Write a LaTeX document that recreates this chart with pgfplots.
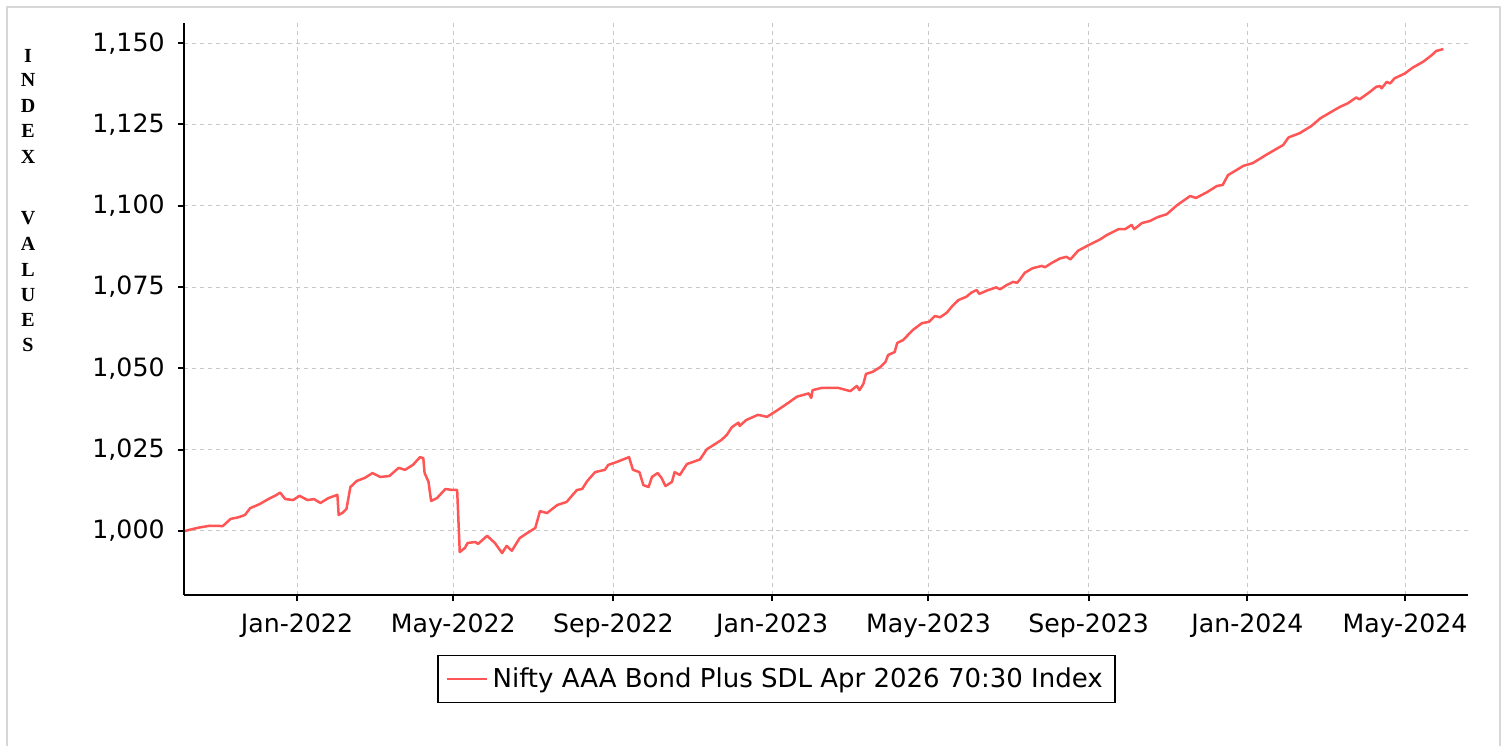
\documentclass[border=0pt]{standalone}
\usepackage{fontspec}
\setmainfont{DejaVu Sans}
\newfontfamily\lblfont{Liberation Serif}
\usepackage{pgfplots}
\pgfplotsset{compat=1.18}
\definecolor{linered}{RGB}{255,85,85}
\definecolor{gridgray}{RGB}{200,200,200}
\definecolor{framegray}{RGB}{215,215,215}
\begin{document}
\begin{tikzpicture}
\useasboundingbox (0,0) rectangle (752.5pt,373pt);
\draw[framegray, line width=0.9pt] (3.5pt,0) -- (3.5pt,369.5pt) -- (750pt,369.5pt) -- (750pt,0);
\begin{axis}[
  at={(92pt,75.5pt)}, anchor=south west,
  scale only axis, width=642pt, height=286pt,
  xmin=-86.8, xmax=899.4, ymin=980.3, ymax=1156.2,
  axis x line*=bottom, axis y line*=left,
  axis line style={line width=1pt, black, -},
  tick align=outside, major tick length=3pt,
  tick style={black, line width=1pt},
  xtick={0,120,243,365,485,608,730,851},
  xticklabels={Jan-2022,May-2022,Sep-2022,Jan-2023,May-2023,Sep-2023,Jan-2024,May-2024},
  ytick={1000,1025,1050,1075,1100,1125,1150},
  yticklabels={{1,000},{1,025},{1,050},{1,075},{1,100},{1,125},{1,150}},
  ticklabel style={font=\fontsize{12.6}{15}\selectfont},
  xticklabel style={inner sep=0pt, yshift=-6pt},
  yticklabel style={inner sep=0pt, xshift=-6.5pt},
  grid=major,
  major grid style={gridgray, line width=0.5pt, dash pattern=on 2pt off 2pt},
  legend style={at={(0.4614,-0.1469)}, anchor=center, draw=black, line width=0.8pt,
    inner xsep=4pt, inner ysep=4pt,
    font=\fontsize{13}{15}\selectfont,
    nodes={inner sep=2pt}},
  legend cell align=left,
  legend image code/.code={\draw[#1, line width=1.25pt] (0pt,0pt) -- (20pt,0pt);},
]
\addplot[linered, line width=1.25pt, line join=round] coordinates {
(-86,1000.0) (-80,1000.6) (-74.5,1001.1) (-67,1001.6) (-57,1001.5) (-51,1003.7) (-45,1004.2)
(-40,1004.9) (-36,1007.0) (-29,1008.2) (-22,1009.8) (-16,1011.0) (-13,1011.8) (-9,1009.8)
(-3,1009.5) (2,1010.8) (8,1009.5) (13,1009.8) (18,1008.6) (24,1010.1) (31,1011.1)
(32,1004.9) (35,1005.6) (38,1006.8) (41,1013.5) (46,1015.4) (52,1016.3) (58,1017.8)
(64,1016.6) (71,1016.9) (78,1019.4) (83,1018.8) (89,1020.3) (94.5,1022.7) (97,1022.4)
(98,1017.8) (101,1015.1) (103,1009.2) (107.5,1010.1) (114,1012.9) (119,1012.6) (123,1012.6)
(125,993.5) (129,994.8) (131,996.3) (137,996.6) (139,996.0) (146,998.5) (152,996.3)
(157.5,993.2) (161,995.4) (165,993.9) (171,997.8) (177,999.4) (183,1000.9) (186.6,1006.1)
(192,1005.5) (200,1008.0) (207,1008.9) (215,1012.6) (219,1012.9) (223,1015.4) (229,1018.1)
(236.5,1018.8) (239,1020.3) (245.5,1021.2) (255,1022.7) (258,1018.8) (263,1018.1) (266,1014.1)
(270,1013.5) (272.6,1016.6) (277,1017.8) (280,1016.3) (283,1013.8) (288,1015.1) (290,1018.1)
(294,1017.2) (299.5,1020.6) (304,1021.2) (309.5,1022.0) (314.7,1025.1) (321,1026.7) (326,1028.0)
(330,1029.5) (334,1031.9) (339,1033.3) (340,1032.3) (345,1034.1) (354,1035.7) (361,1035.1)
(368.5,1037.0) (377,1039.3) (384,1041.3) (393,1042.3) (395,1040.9) (396,1043.3) (403,1044.0)
(409,1044.0) (415.5,1044.0) (425,1043.0) (430,1044.6) (432,1043.3) (435,1045.2) (437,1048.3)
(442,1048.9) (448,1050.4) (452,1052.0) (454,1054.1) (459,1055.0) (461,1057.8) (465.5,1058.7)
(473,1061.8) (480,1063.9) (485.4,1064.3) (490,1066.1) (494,1065.7) (499,1067.1) (503,1069.0)
(508,1071.0) (514,1072.0) (518,1073.3) (522,1074.1) (524,1072.9) (531,1074.1) (537,1074.9)
(540,1074.3) (545,1075.6) (550,1076.6) (553,1076.3) (555,1077.2) (559,1079.4) (565,1080.8)
(572,1081.5) (574.5,1081.1) (580,1082.5) (586,1083.8) (591,1084.3) (594,1083.5) (600,1086.2)
(608,1087.9) (617,1089.7) (622,1091.0) (631,1092.8) (636,1092.8) (641,1094.1) (643,1092.8)
(649,1094.7) (655,1095.3) (661,1096.5) (668,1097.4) (676,1100.2) (686,1103.0) (690.5,1102.4)
(699,1104.2) (706.6,1106.1) (711,1106.4) (715,1109.4) (727,1112.3) (734,1113.1) (745,1115.8)
(757.5,1118.7) (761.5,1121.0) (770,1122.3) (779,1124.5) (786,1126.9) (794.5,1128.9) (801,1130.4)
(807,1131.5) (813.6,1133.3) (816,1132.7) (824,1135.0) (829,1136.6) (832,1136.8) (833,1136.1)
(837,1138.1) (839.5,1137.6) (843,1139.2) (851,1140.7) (857,1142.5) (865,1144.3) (871.5,1146.3)
(875,1147.6) (880.5,1148.2)
};
\addlegendentry{Nifty AAA Bond Plus SDL Apr 2026 70:30 Index}
\end{axis}
\foreach \ch/\yy in {I/344.85,N/332.85,D/320,E/307.5,X/294.65,V/263.85,A/251,L/238,U/225.5,E/213,S/200.5}
  \node[inner sep=0pt, anchor=center, font=\lblfont\bfseries\fontsize{10}{12}\selectfont] at (14pt,\yy pt) {\ch};
\end{tikzpicture}
\end{document}
